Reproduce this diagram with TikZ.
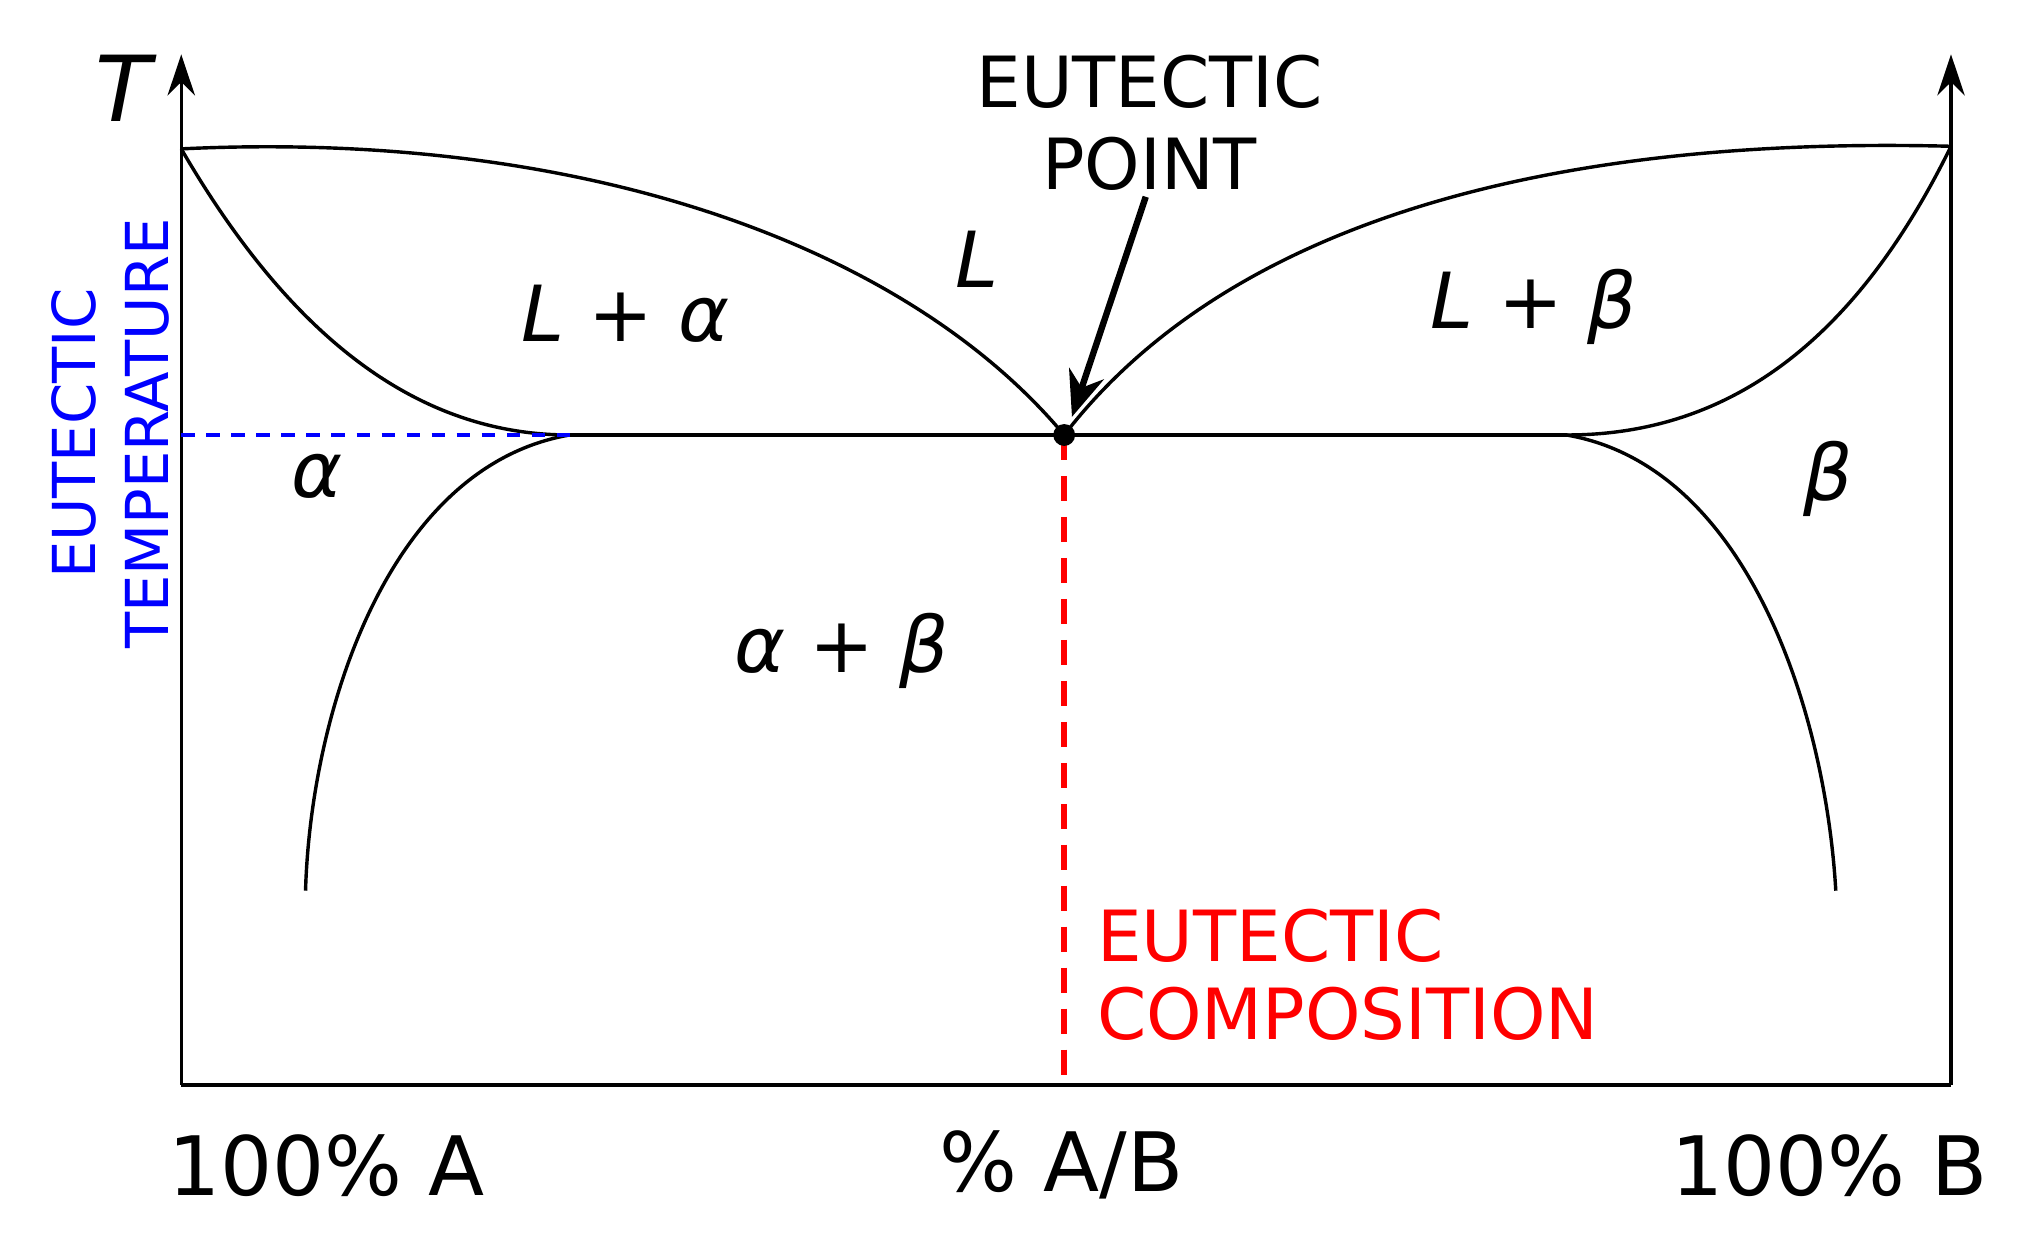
\documentclass[tikz,border=0pt]{standalone}
\usepackage{fontspec}
\setmainfont{DejaVu Sans}
\usetikzlibrary{arrows.meta}
\begin{document}
\begin{tikzpicture}[x=0.01cm,y=-0.01cm,
  curve/.style={line width=0.75pt},
  lab/.style={font=\fontsize{17}{20}\selectfont\itshape},
  axlab/.style={font=\fontsize{18}{21}\selectfont}]
\useasboundingbox (0,0) rectangle (1568,955);
\coordinate (O) at (140,838);
\coordinate (R) at (1507,838);
\coordinate (TA) at (140,42);
\coordinate (TB) at (1507,42);
\coordinate (MA) at (140,115);
\coordinate (MB) at (1507,113);
\coordinate (E) at (822,336);
\coordinate (SA) at (440,336);
\coordinate (SB) at (1210,336);
\coordinate (EA) at (140,336);
\coordinate (EB) at (822,838);
\coordinate (VA) at (236,688);
\coordinate (VB) at (1418,688);
\draw[curve,-{Stealth[length=9pt,width=6pt]}] (O) -- (TA);
\draw[curve,-{Stealth[length=9pt,width=6pt]}] (R) -- (TB);
\draw[curve] (O) -- (R);
\draw[curve] (MA) .. controls (450,100) and (700,190) .. (E);
\draw[curve] (MA) .. controls (230,270) and (330,336) .. (SA);
\draw[curve] (SA) -- (SB);
\draw[curve] (SA) .. controls (300,360) and (240,550) .. (VA);
\draw[curve] (E) .. controls (950,170) and (1200,105) .. (MB);
\draw[curve] (MB) .. controls (1430,270) and (1330,336) .. (SB);
\draw[curve] (SB) .. controls (1350,360) and (1410,550) .. (VB);
\draw[blue,line width=0.7pt,dash pattern=on 3pt off 2.5pt] (EA) -- (SA);
\draw[red,line width=1.4pt,dash pattern=on 5.5pt off 3.5pt] (E) -- (EB);
\fill (E) circle (2.4pt);
\node[axlab,font=\fontsize{20}{22}\selectfont\itshape] (T) at (95,68) {T};
\node[align=center,font=\fontsize{15.5}{18}\selectfont] (EP) at (888,95) {EUTECTIC\\POINT};
\coordinate (AS) at (885,152);
\draw[line width=1.4pt,-{Stealth[length=10pt,width=8pt]}] (AS) -- (828,322);
\node[lab] (L) at (755,200) {L};
\node[lab] (La) at (483,242) {L + α};
\node[lab] (Lb) at (1185,237) {L + β};
\node[lab] (a) at (245,368) {α};
\node[lab] (b) at (1412,370) {β};
\node[lab] (ab) at (650,503) {α + β};
\node[red,align=left,anchor=west,font=\fontsize{15.5}{17}\selectfont] (EC) at (835,753) {EUTECTIC\\COMPOSITION};
\node[blue,align=center,rotate=90,font=\fontsize{13}{16}\selectfont] (ET) at (85,335) {EUTECTIC\\TEMPERATURE};
\node[axlab] (A) at (252,900) {100\% A};
\node[axlab] (AB) at (820,900) {\% A/B};
\node[axlab] (B) at (1413,900) {100\% B};
\end{tikzpicture}
\end{document}
